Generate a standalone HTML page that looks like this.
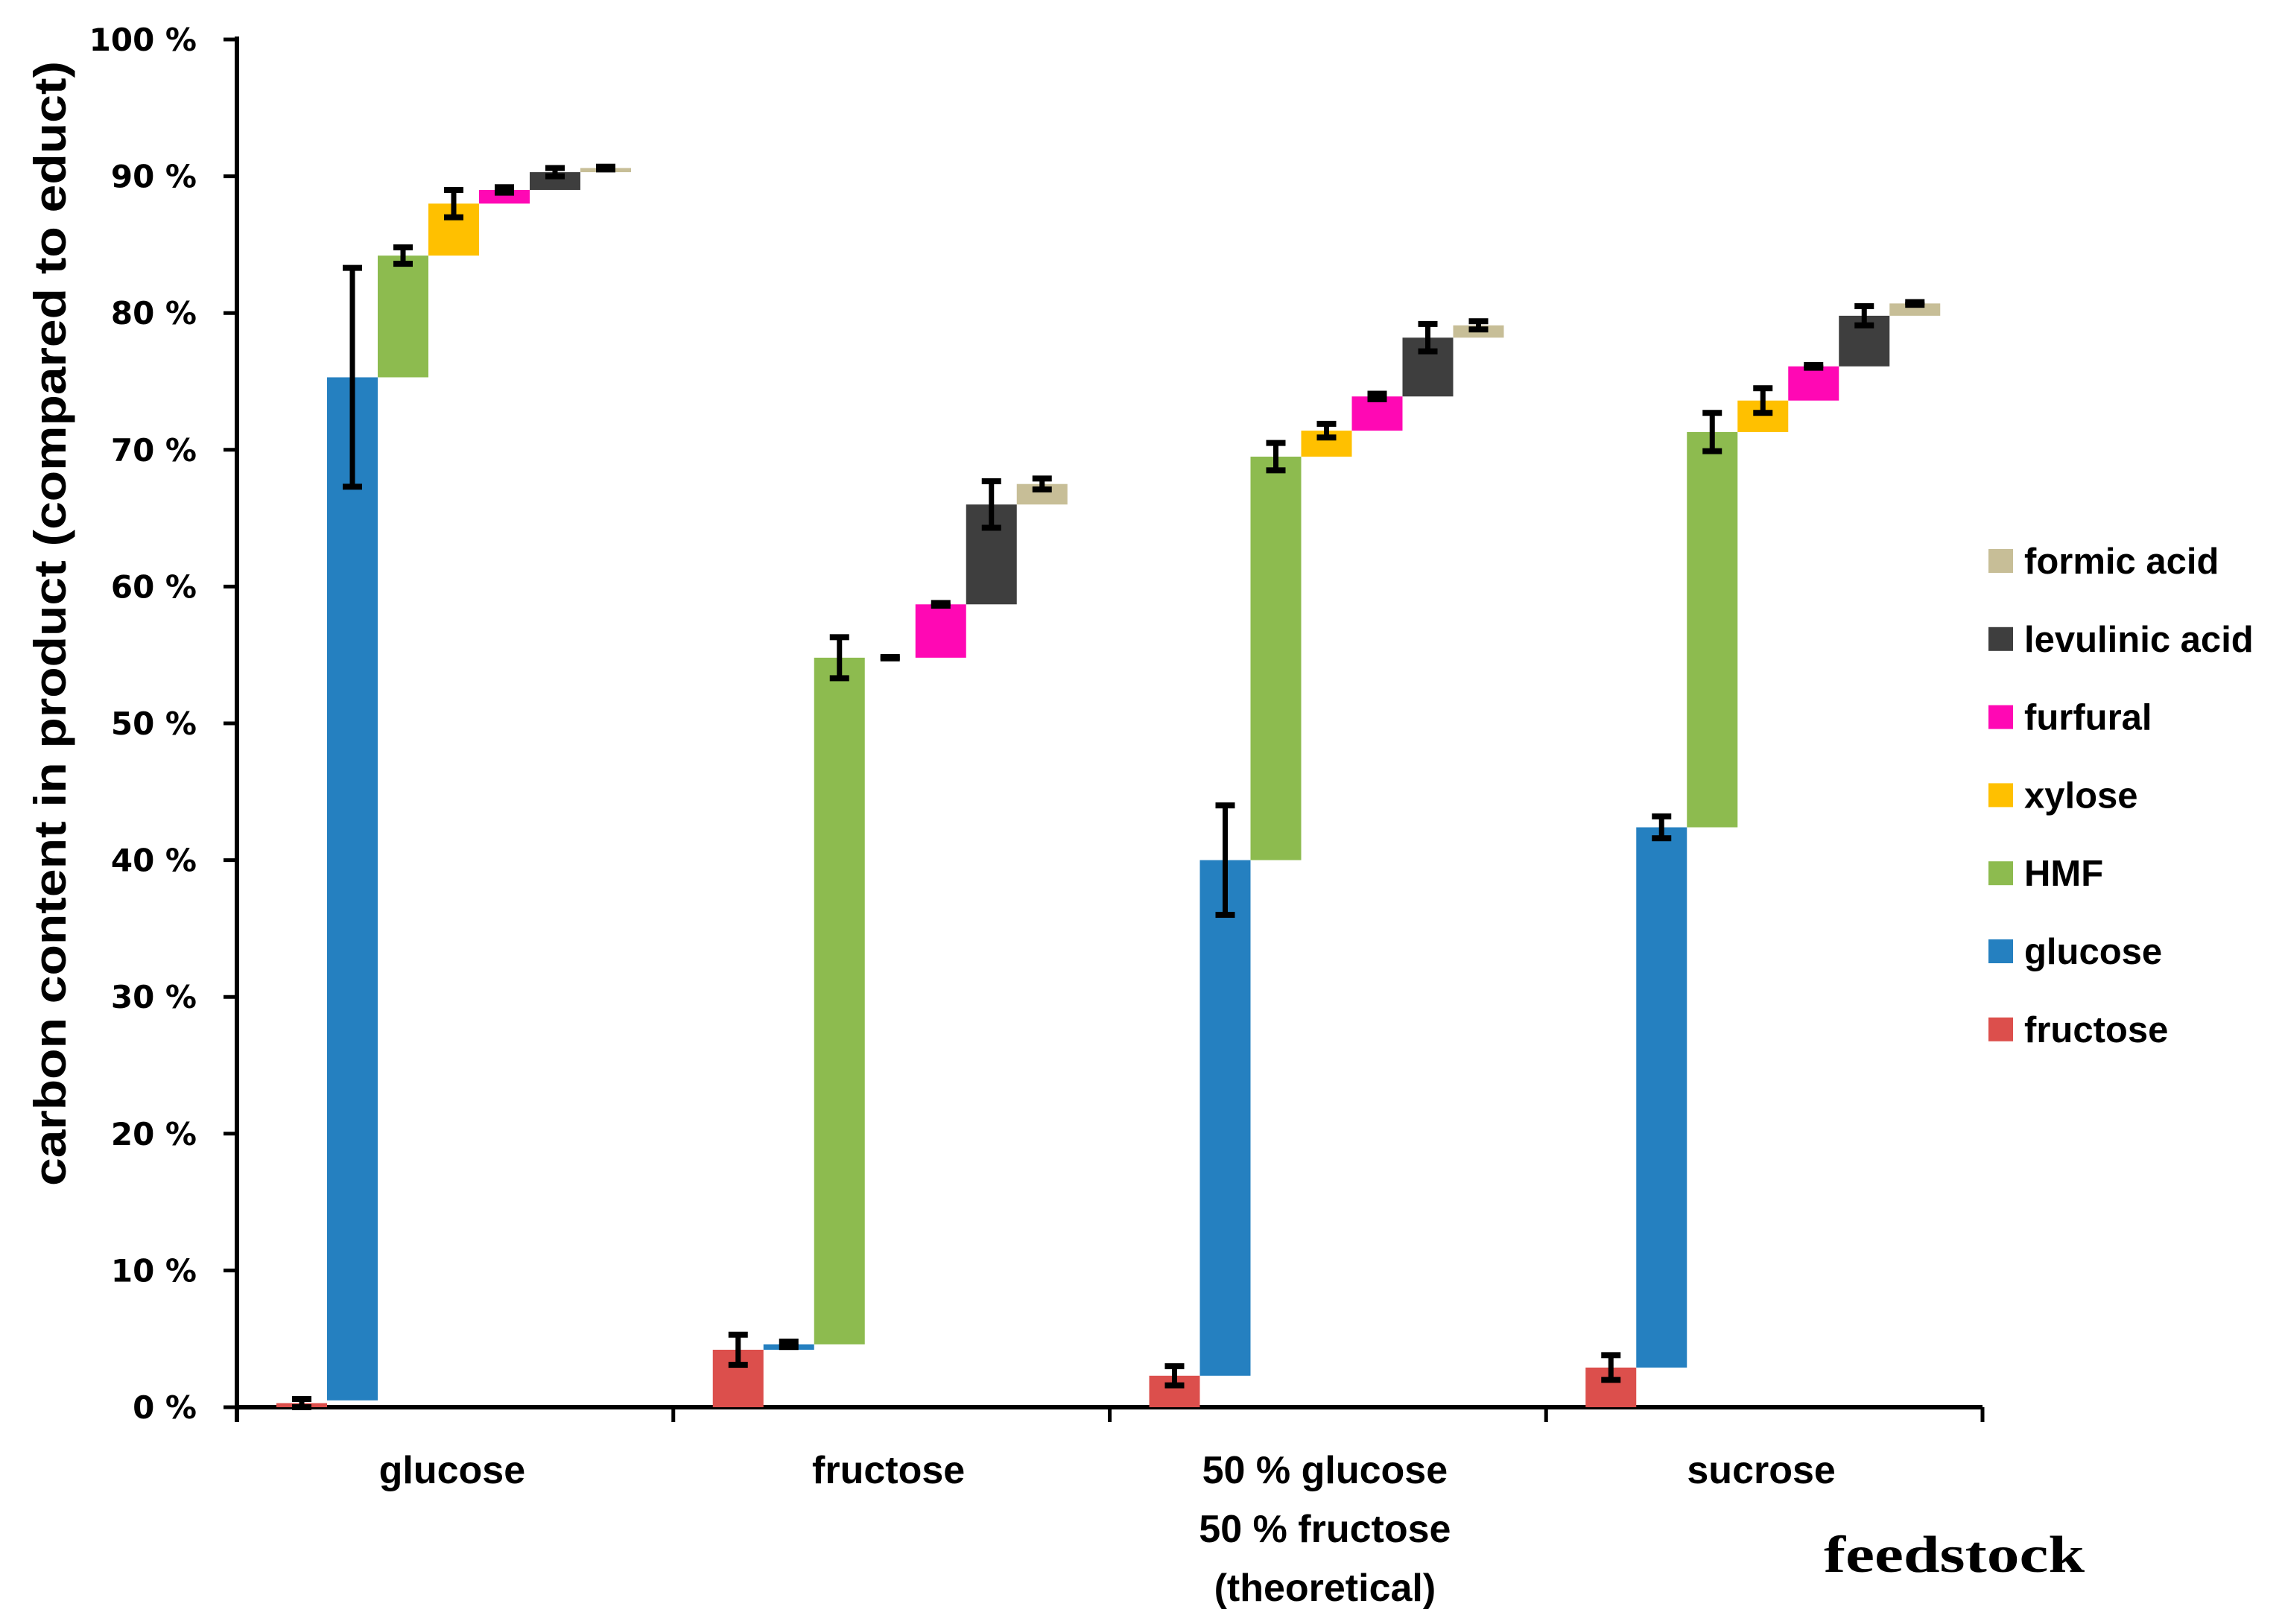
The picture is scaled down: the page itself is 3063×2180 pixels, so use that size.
<!DOCTYPE html>
<html><head><meta charset="utf-8"><style>
html,body{margin:0;padding:0;background:#fff}
svg{display:block}
text{font-family:"Liberation Sans",sans-serif;font-weight:bold;fill:#000}
</style></head><body>
<svg id="chart" width="3063" height="2180" viewBox="0 0 3063 2180" xmlns="http://www.w3.org/2000/svg">
<g id="axes"></g>
<g id="bars"></g>
<g id="errs"></g>
<g id="legend"></g>
<text x="88" y="837" transform="rotate(-90 88 837)" text-anchor="middle" font-size="60" textLength="1510" lengthAdjust="spacingAndGlyphs">carbon content in product  (compared to educt)</text>
<text x="2448" y="2110" font-size="70" style="font-family:'Liberation Serif',serif" textLength="350" lengthAdjust="spacingAndGlyphs">feedstock</text>
</svg>
<script>
const categories = [["glucose"],["fructose"],["50 % glucose","50 % fructose","(theoretical)"],["sucrose"]];
const series = ["fructose","glucose","HMF","xylose","furfural","levulinic acid","formic acid"];
const colors = ["#dc4f4c","#2580c0","#8dbb4f","#ffc000","#ff08b4","#3e3e3e","#c7be97"];
const starts = [
  [0, 0.5, 75.3, 84.2, 88.0, 89.0, 90.3],
  [0, 4.2, 4.6, 54.8, 54.8, 58.7, 66.0],
  [0, 2.3, 40.0, 69.5, 71.4, 73.9, 78.2],
  [0, 2.9, 42.4, 71.3, 73.6, 76.1, 79.8]
];
const ends = [
  [0.3, 75.3, 84.2, 88.0, 89.0, 90.3, 90.6],
  [4.2, 4.6, 54.8, 54.8, 58.7, 66.0, 67.5],
  [2.3, 40.0, 69.5, 71.4, 73.9, 78.2, 79.1],
  [2.9, 42.4, 71.3, 73.6, 76.1, 79.8, 80.7]
];
const errors = [
  [0.3, 8.0, 0.6, 1.0, 0.2, 0.3, 0.1],
  [1.1, 0.2, 1.5, 0.05, 0.1, 1.7, 0.4],
  [0.7, 4.0, 1.0, 0.5, 0.2, 1.0, 0.3],
  [0.9, 0.8, 1.4, 0.9, 0.1, 0.7, 0.1]
];
const yTicks = [0,10,20,30,40,50,60,70,80,90,100];
const legendOrder = [6,5,4,3,2,1,0];

const NS = "http://www.w3.org/2000/svg";
const X0 = 318, X1 = 2661, Y0 = 1889, Y100 = 53;
const catW = (X1 - X0) / categories.length;
const barW = 68, barOff = 53;
function yScale(v){ return Y0 - (Y0 - Y100) * v / 100; }
function xCat(i){ return X0 + catW * i; }
function xBar(c, s){ return xCat(c) + barOff + s * barW; }
function mk(tag, attrs, parent){ const e = document.createElementNS(NS, tag); for (const k in attrs) e.setAttribute(k, attrs[k]); parent.appendChild(e); return e; }

const axes = document.getElementById('axes');
let yl = mk('line', {x1:X0, y1:Y100-4, x2:X0, y2:Y0+20, stroke:'#000','stroke-width':6}, axes);


let xl = mk('line', {x1:X0-3, y1:Y0, x2:X1, y2:Y0, stroke:'#000','stroke-width':6}, axes);


yTicks.forEach(t => {
  const y = yScale(t);
  const tk = mk('line', {x1:X0-18, y1:y, x2:X0, y2:y, stroke:'#000','stroke-width':5}, axes);
  
  
  const tx = mk('text', {x:264, y:y+15, 'text-anchor':'end', 'font-size':42, style:'font-family:"DejaVu Sans",sans-serif'}, axes);
  tx.textContent = t + ' %';
  
  
});
for (let i = 0; i <= categories.length; i++) {
  const x = xCat(i);
  const tk = mk('line', {x1:x, y1:Y0, x2:x, y2:Y0+20, stroke:'#000','stroke-width':5}, axes);
  
  
}
categories.forEach((lines, i) => {
  lines.forEach((ln, j) => {
    const tx = mk('text', {x:xCat(i)+catW/2 - 4, y:1991+79*j, 'text-anchor':'middle', 'font-size':52}, axes);
    tx.textContent = ln;
    
    
  });
});

const bars = document.getElementById('bars'), errs = document.getElementById('errs');
categories.forEach((c, ci) => {
  series.forEach((s, si) => {
    const a = starts[ci][si], b = ends[ci][si];
    const yt = yScale(Math.max(a,b)), yb = yScale(Math.min(a,b));
    const r = mk('rect', {x:xBar(ci,si), y:yt, width:barW, height:Math.max(yb-yt,0), fill:colors[si]}, bars);
    
    
    const cx = xBar(ci,si) + barW/2, e = errors[ci][si];
    const yhi = yScale(b + e), ylo = yScale(b - e);
    const g = mk('g', {}, errs);
    
    
    mk('line', {x1:cx, y1:yhi, x2:cx, y2:ylo, stroke:'#000','stroke-width':7}, g);
    mk('rect', {x:cx-13, y:yhi-4, width:26, height:8, fill:'#000'}, g);
    mk('rect', {x:cx-13, y:ylo-4, width:26, height:8, fill:'#000'}, g);
  });
});

const legend = document.getElementById('legend');
legendOrder.forEach((si, k) => {
  const y = 753 + k * 104.8;
  const g = mk('g', {}, legend);
  
  
  mk('rect', {x:2669, y:y-16, width:33, height:32, fill:colors[si]}, g);
  const t = mk('text', {x:2717, y:y+17, 'font-size':49}, g);
  t.textContent = series[si];
});
</script>
</body></html>
